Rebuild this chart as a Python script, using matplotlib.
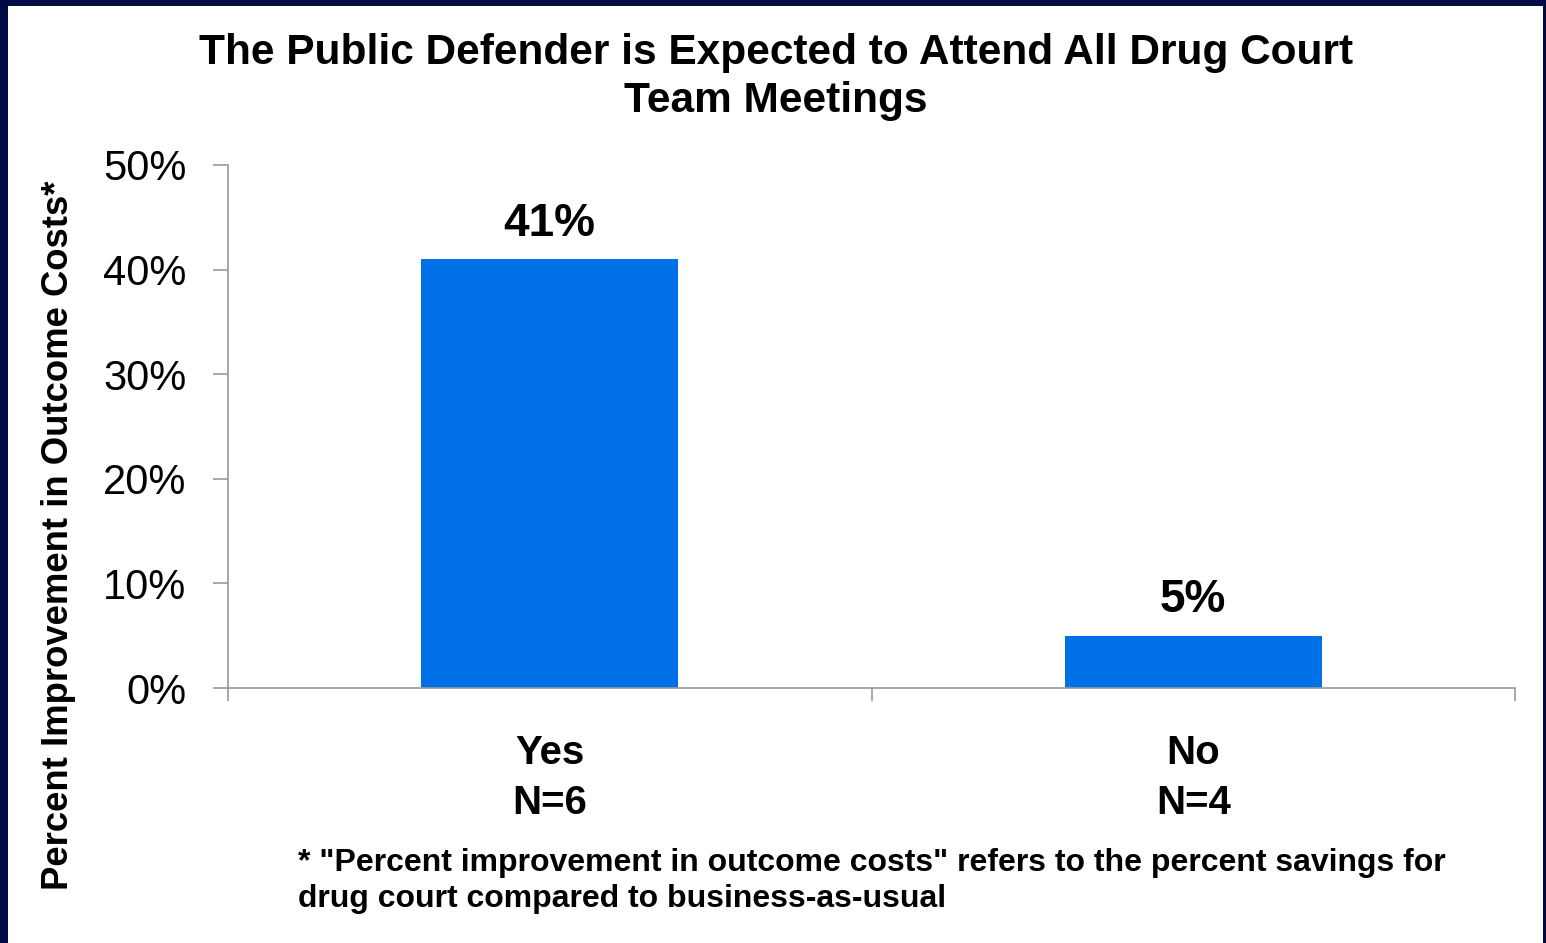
import matplotlib
matplotlib.use('Agg')
import matplotlib.pyplot as plt
import matplotlib.patches as mpatches
from matplotlib.ticker import FixedLocator, PercentFormatter

plt.rcParams['font.family'] = ['Liberation Sans', 'DejaVu Sans']

# 데이터
categories = ['Yes\nN=6', 'No\nN=4']
values = [41, 5]
bar_labels = ['41%', '5%']

NAVY = '#000A45'
BLUE = '#0070E6'
GRAY = '#999999'

fig = plt.figure(figsize=(15.46, 9.43), dpi=100, facecolor=NAVY)
# 흰 배경 패널 (가장자리는 남색 테두리)
fig.patches.append(mpatches.Rectangle((8 / 1546, 0), (1543 - 8) / 1546, 1 - 6 / 943,
                                      transform=fig.transFigure, facecolor='white',
                                      edgecolor='none', zorder=-5))

ax = fig.add_axes([228 / 1546, 1 - 688 / 943, (1515 - 228) / 1546, (688 - 165) / 943])
ax.set_facecolor('none')
ax.set_zorder(2)

x = list(range(len(categories)))
ax.bar(x, values, width=0.4, color=BLUE, zorder=2)
for xi, v, lab in zip(x, values, bar_labels):
    ax.text(xi, v + 1.3, lab, ha='center', va='bottom', fontsize=33, fontweight='bold')

ax.set_xlim(-0.5, len(categories) - 0.5)
ax.set_ylim(0, 50)
ax.yaxis.set_major_locator(FixedLocator([0, 10, 20, 30, 40, 50]))
ax.yaxis.set_major_formatter(PercentFormatter(decimals=0))

ax.set_xticks(x)
ax.set_xticklabels(categories, fontsize=29, fontweight='bold', linespacing=1.4)
ax.set_xticks([i - 0.5 for i in range(len(categories) + 1)], minor=True)
ax.tick_params(axis='x', which='major', length=0, pad=33)
ax.tick_params(axis='x', which='minor', length=9, color=GRAY, width=1.2, direction='out')
ax.tick_params(axis='y', length=11, color=GRAY, width=1.2, labelsize=30, pad=19)

for side in ['top', 'right']:
    ax.spines[side].set_visible(False)
for side in ['left', 'bottom']:
    ax.spines[side].set_color(GRAY)
    ax.spines[side].set_linewidth(1.2)

fig.text(776 / 1546, 1 - 77 / 943,
         'The Public Defender is Expected to Attend All Drug Court\nTeam Meetings',
         ha='center', va='center', fontsize=30.5, fontweight='bold', linespacing=1.28)

fig.text(59 / 1546, 1 - 535 / 943, 'Percent Improvement in Outcome Costs*',
         rotation=90, ha='center', va='center', fontsize=26.3, fontweight='bold')

fig.text(298 / 1546, 1 - 881 / 943,
         '* "Percent improvement in outcome costs" refers to the percent savings for\n'
         'drug court compared to business-as-usual',
         ha='left', va='center', fontsize=23, fontweight='bold', linespacing=1.22)

fig.savefig('out.png', dpi=100, facecolor=NAVY)
